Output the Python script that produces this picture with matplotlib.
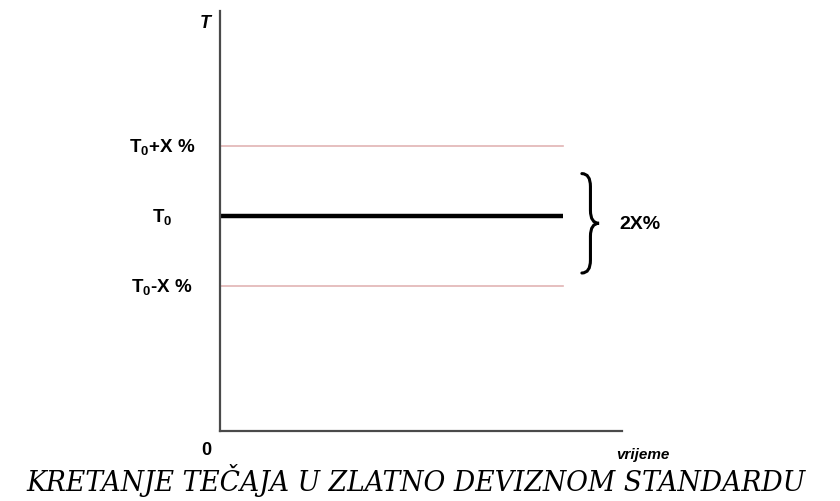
import numpy as np
import matplotlib.pyplot as plt
from matplotlib.path import Path
from matplotlib.patches import PathPatch
import matplotlib.transforms as mtransforms

plt.rcParams['mathtext.fontset'] = 'custom'
plt.rcParams['mathtext.rm'] = 'Liberation Sans:bold'
plt.rcParams['mathtext.it'] = 'Liberation Sans:bold'
plt.rcParams['mathtext.bf'] = 'Liberation Sans:bold'

# podaci
t0 = 100
band = 32.5
time_x = [0, 10]
levels = [t0 + band, t0, t0 - band]
level_labels = [r'T$_0$+X %', r'T$_0$', r'T$_0$-X %']
title = 'KRETANJE TEČAJA U ZLATNO DEVIZNOM STANDARDU'

fig = plt.figure(figsize=(8.4, 5.02), dpi=100)
ax = fig.add_axes([220/840, 70/502, 402/840, 420/502])
ax.set_xlim(0, 11.72)
ax.set_ylim(0, 195)

# osi
for s in ['top', 'right']:
    ax.spines[s].set_visible(False)
for s in ['left', 'bottom']:
    ax.spines[s].set_color('#4a4a4a')
    ax.spines[s].set_linewidth(1.6)
ax.set_xticks([])
ax.set_yticks([])

# granice i centralni tecaj
ax.plot(time_x, [levels[0]] * 2, color='#e2b4b4', lw=1.2)
ax.plot(time_x, [levels[2]] * 2, color='#e2b4b4', lw=1.2)
ax.plot(time_x, [t0, t0], color='black', lw=3.2, solid_capstyle='butt')

trans = mtransforms.blended_transform_factory(ax.transAxes, ax.transData)
for lv, lab in zip(levels, level_labels):
    ax.text(-0.144, lv, lab, transform=trans, ha='center', va='center',
            fontsize=13.5, fontweight='bold', family='Liberation Sans')

# viticasta zagrada
x0, w = 10.55, 0.5
ytop, ybot = t0 + 0.6 * band, t0 - 0.82 * band
ymid = (ytop + ybot) / 2
xm = x0 + w / 2
r = 6
verts = [(x0, ytop), (xm, ytop), (xm, ytop - r),
         (xm, ymid + r),
         (xm, ymid), (x0 + w, ymid),
         (xm, ymid), (xm, ymid - r),
         (xm, ybot + r),
         (xm, ybot), (x0, ybot)]
codes = [Path.MOVETO, Path.CURVE3, Path.CURVE3, Path.LINETO,
         Path.CURVE3, Path.CURVE3, Path.CURVE3, Path.CURVE3,
         Path.LINETO, Path.CURVE3, Path.CURVE3]
ax.add_patch(PathPatch(Path(verts, codes), fill=False, lw=2.2, color='black',
                       clip_on=False, capstyle='round'))
ax.text(x0 + w + 0.6, ymid, '2X%', ha='left', va='center', fontsize=14,
        fontweight='bold', family='Liberation Sans')

# oznake osi
fig.text(205/840, 1 - 23/502, 'T', ha='center', va='center', fontsize=13,
         fontweight='bold', style='italic', family='Liberation Sans')
fig.text(206/840, 1 - 451/502, '0', ha='center', va='center', fontsize=13,
         fontweight='bold', family='Liberation Sans')
fig.text(643/840, 1 - 455/502, 'vrijeme', ha='center', va='center', fontsize=11,
         fontweight='bold', style='italic', family='Liberation Sans')

fig.text(416/840, 1 - 481/502, title, ha='center', va='center', fontsize=19.2,
         style='italic', family='DejaVu Serif')

fig.savefig('out.png', dpi=100)
